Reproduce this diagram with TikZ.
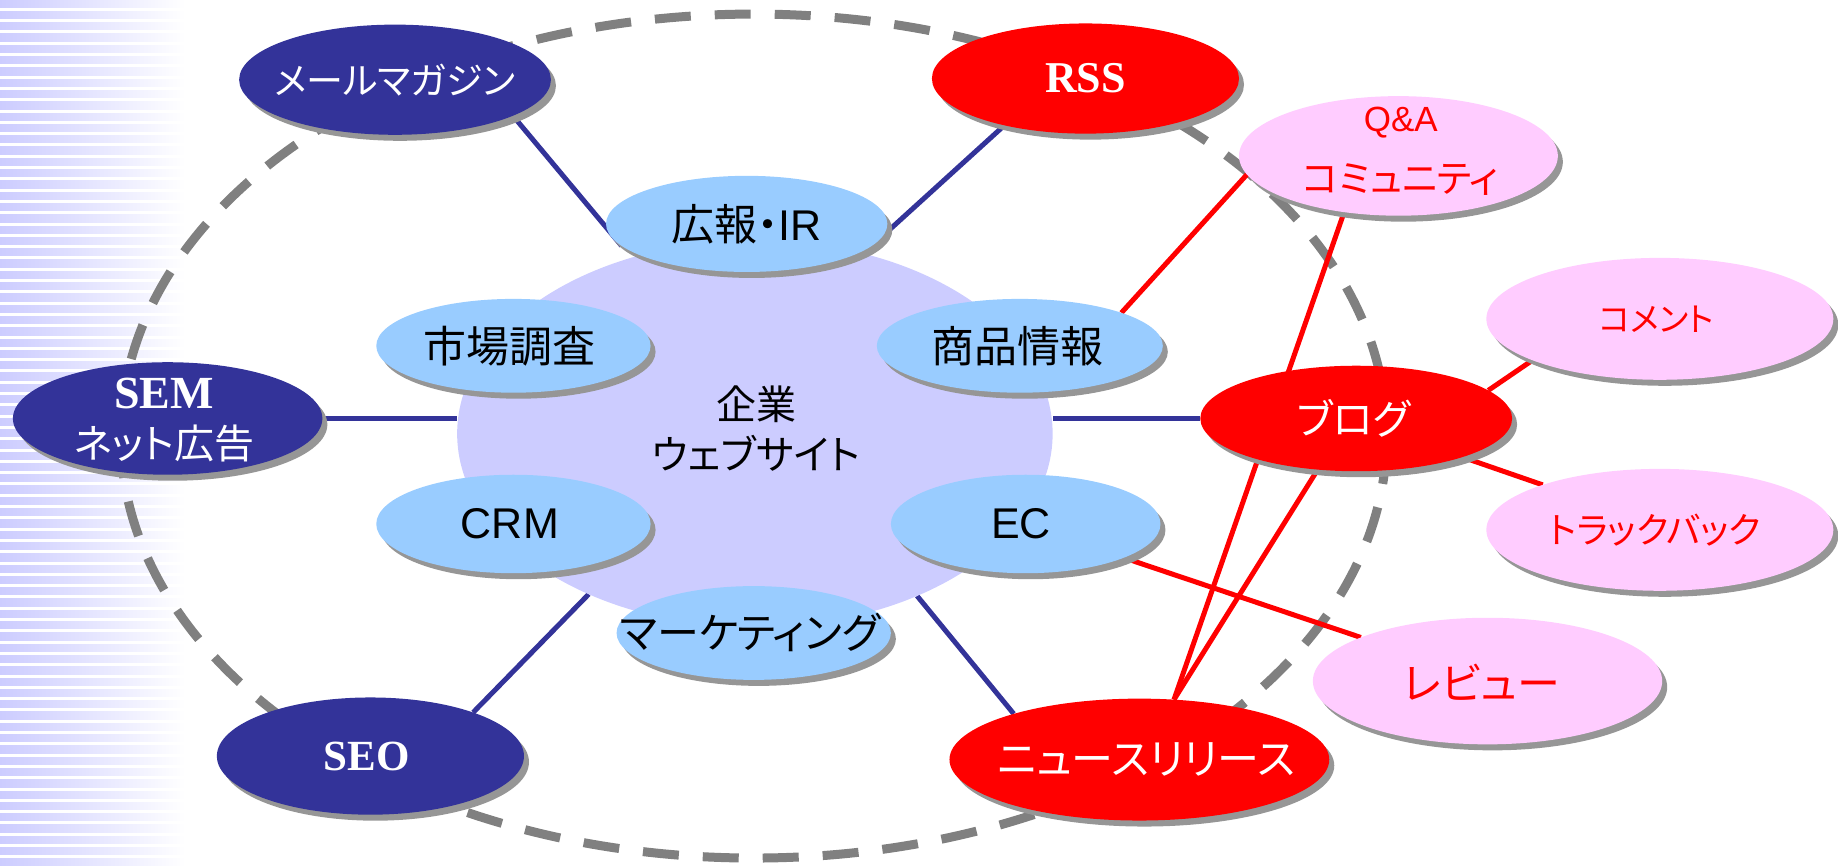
\documentclass[tikz,border=0pt]{standalone}
\usepackage{fontspec}
\setmainfont{Noto Sans CJK JP}[RawFeature=+palt]
\newfontfamily\tnr{Liberation Serif}
\newfontfamily\arl{Liberation Sans}
\usetikzlibrary{shapes.geometric,shadows}
\definecolor{navy}{RGB}{51,51,153}
\definecolor{pinkf}{RGB}{255,204,255}
\definecolor{lblue}{RGB}{153,204,255}
\definecolor{lav}{RGB}{204,204,255}
\definecolor{dgray}{RGB}{128,128,128}
\definecolor{shgray}{RGB}{150,150,150}
\pgfdeclarelayer{back}
\pgfdeclarelayer{links}
\pgfsetlayers{back,links,main}
\tikzset{
  ell/.style 2 args={ellipse, minimum width=2*#1*1.1722pt, minimum height=2*#2*1.1722pt,
    inner sep=0pt, outer sep=0pt,
    drop shadow={shadow xshift=5pt, shadow yshift=-6pt, fill=shgray, opacity=1}},
  navyell/.style={fill=navy},
  redell/.style={fill=red},
  pinkell/.style={fill=pinkf},
  blueell/.style={fill=lblue},
  wtxt/.style={text=white, inner sep=0pt, align=center},
  rtxt/.style={text=red, inner sep=0pt, align=center},
  ktxt/.style={text=black, inner sep=0pt, align=center},
  fs/.style={font=\fontsize{#1}{#1}\selectfont},
  navyline/.style={draw=navy, line width=5pt},
  redline/.style={draw=red, line width=5pt},
}
\begin{document}
\begin{tikzpicture}[x=1.1722pt, y=-1.1722pt]
\useasboundingbox (0,0) rectangle (1568,738);

% nodes
\node[ellipse, fill=lav, minimum width=508*1.1722pt, minimum height=330*1.1722pt, inner sep=0pt, outer sep=0pt] (web) at (644,370) {};
\node[ktxt, font=\fontsize{40}{50}\selectfont] (webT) at (645,366) {企業\\ウェブサイト};

\node[ell={133}{47}, navyell] (mail) at (337,68) {};
\node[wtxt, fs=37] (mailT) at (337,68) {メールマガジン};

\node[ell={131}{47}, redell] (rss) at (926,67) {};
\node[wtxt, fs=44] (rssT) at (926,67) {\tnr\bfseries RSS};

\node[ell={136}{51}, pinkell] (qa) at (1193,133) {};
\node[rtxt, font=\fontsize{38}{61}\selectfont] (qaT) at (1195,129) {{\arl\fontsize{35}{61}\selectfont Q\&A}\\コミュニティ};

\node[ell={120}{41}, blueell] (koho) at (637,191) {};
\node[ktxt, fs=43] (kohoT) at (637,191) {広報・{\arl IR}};

\node[ell={117}{40}, blueell] (ichiba) at (438,295) {};
\node[ktxt, fs=43] (ichibaT) at (435,295) {市場調査};

\node[ell={122}{40}, blueell] (shohin) at (870,295) {};
\node[ktxt, fs=43] (shohinT) at (868,295) {商品情報};

\node[ell={117}{42}, blueell] (crm) at (438,447) {};
\node[ktxt, fs=43] (crmT) at (435,447) {\arl CRM};

\node[ell={115}{42}, blueell] (ec) at (875,447) {};
\node[ktxt, fs=43] (ecT) at (871,447) {\arl EC};

\node[ell={117}{40}, blueell] (mkt) at (643,540) {};
\node[ktxt, fs=42] (mktT) at (640,540) {マーケティング};

\node[ell={132}{48}, navyell] (sem) at (143,357) {};
\node[wtxt, font=\fontsize{40}{50}\selectfont] (semT) at (140,358) {{\tnr\bfseries\fontsize{46}{50}\selectfont SEM}\\ネット広告};

\node[ell={131}{50}, navyell] (seo) at (316,645) {};
\node[wtxt, fs=43] (seoT) at (313,645) {\tnr\bfseries SEO};

\node[ell={133}{45}, redell] (blog) at (1157,357) {};
\node[wtxt, fs=41] (blogT) at (1155,357) {ブログ};

\node[ell={148}{52}, pinkell] (comment) at (1416,272) {};
\node[rtxt, fs=33] (commentT) at (1413,272) {コメント};

\node[ell={148}{52}, pinkell] (track) at (1416,452) {};
\node[rtxt, fs=36] (trackT) at (1412,452) {トラックバック};

\node[ell={149}{54}, pinkell] (review) at (1269,581) {};
\node[rtxt, fs=43] (reviewT) at (1264,582) {レビュー};

\node[ell={162}{52}, redell] (news) at (972,648) {};
\node[wtxt, fs=42] (newsT) at (978,648) {ニュースリリース};

% background stripes and dashed ring
\begin{pgfonlayer}{back}
  \foreach \i in {0,...,76} {
    \shade[left color=lav, right color=white] (0,{\i*9.64}) rectangle (158,{\i*9.64+6.3});
  }
  \node[ellipse, draw=dgray, line width=9pt, dash pattern=on 36pt off 24pt,
        minimum width=1080*1.1722pt, minimum height=720*1.1722pt, inner sep=0pt] (ring) at (643,372) {};
\end{pgfonlayer}

% connectors
\begin{pgfonlayer}{links}
  \draw[navyline] (mail.-17) -- (koho.190);
  \draw[navyline] (rss.210) -- (koho.-10);
  \draw[navyline] (sem.east) -- (web.west |- sem.east);
  \draw[navyline] (seo.23) -- (web.224);
  \draw[navyline] (web.-45) -- (news.160);
  \draw[navyline] (blog.west) -- (web.east |- blog.west);
  \draw[redline] (shohin.18) -- (qa.187);
  \draw[redline] (qa.226) -- (news.60);
  \draw[redline] (blog.233) -- (news.60);
  \draw[redline] (ec.-19) -- (review.161);
  \draw[redline] (blog.12) -- (comment.198);
  \draw[redline] (blog.-20) -- (track.159);
\end{pgfonlayer}
\end{tikzpicture}
\end{document}
